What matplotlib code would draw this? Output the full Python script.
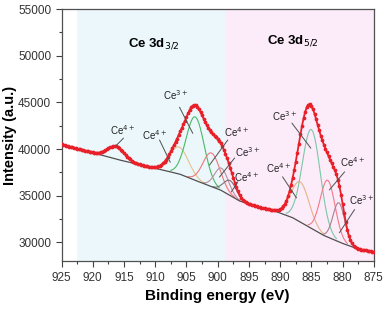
import numpy as np
import matplotlib.pyplot as plt
from matplotlib.ticker import MultipleLocator

plt.rcParams['font.family'] = ['Liberation Sans', 'DejaVu Sans']

# Shirley-type background (eV, counts)
bg_e = [925, 920.5, 915.5, 911, 907.5, 906, 903, 899.5, 896.5, 893.5, 891,
        888, 885.5, 883, 880, 877.5, 875]
bg_i = [40500, 39700, 38800, 38100, 37550, 37300, 36500, 35600, 34450, 33800,
        33400, 32650, 31700, 30750, 29900, 29300, 29000]

# fitted components: centre (eV), height above background, FWHM (eV)
centres = [916.3, 906.2, 903.6, 901.0, 899.4, 898.0, 886.8, 885.0, 882.4, 880.6]
heights = [1350, 2900, 6800, 3600, 2400, 1600, 4300, 10600, 6100, 4200]
fwhms = [3.2, 3.6, 3.4, 3.2, 2.6, 2.4, 3.4, 3.4, 2.8, 2.2]
colors = ['#a8a8a8', '#e6c48a', '#4cb865', '#f07878', '#b8909e', '#747474',
          '#e6b487', '#7cc8a8', '#f27a88', '#a8808f']

# label text position, line start, line end (eV, counts)
labels = ['Ce$^{4+}$', 'Ce$^{4+}$', 'Ce$^{3+}$', 'Ce$^{4+}$', 'Ce$^{3+}$',
          'Ce$^{4+}$', 'Ce$^{4+}$', 'Ce$^{3+}$', 'Ce$^{4+}$', 'Ce$^{3+}$']
lab_xy = [(915.2, 42020), (910.1, 41490), (906.7, 45750), (897.0, 41810),
          (895.2, 39680), (895.4, 37020), (890.3, 37980), (889.3, 43510),
          (878.4, 38620), (877.0, 34580)]
line_from = [(915.1, 41160), (909.3, 40960), (906.1, 44470), (898.4, 40960),
             (897.3, 39040), (896.8, 36490), (889.6, 37020), (888.1, 42770),
             (879.7, 37550), (878.1, 33510)]
line_to = [(916.2, 40420), (907.6, 38600), (904.0, 41700), (901.3, 38300),
           (899.7, 37020), (897.8, 35430), (887.4, 34790), (885.1, 40110),
           (882.1, 35640), (880.5, 31060)]

e = np.arange(925, 874.9, -0.25)
bg = np.interp(e, bg_e[::-1], bg_i[::-1])

def gauss(x, c, h, w):
    s = w / 2.3548
    return h * np.exp(-0.5 * ((x - c) / s) ** 2)

comps = [gauss(e, c, h, w) for c, h, w in zip(centres, heights, fwhms)]
envelope = bg + np.sum(comps, axis=0)

fig = plt.figure(figsize=(3.87, 3.12), dpi=100)
ax = fig.add_axes([0.159, 0.163, 0.807, 0.808])

ax.axvspan(922.5, 898.8, color='#ebf7fb', lw=0, zorder=0)
ax.axvspan(898.8, 875, color='#fcebf8', lw=0, zorder=0)

for g, h, col in zip(comps, heights, colors):
    m = g > 0.02 * h
    ax.plot(e[m], bg[m] + g[m], color=col, lw=0.8, zorder=2)

ax.plot(bg_e, bg_i, color='#505050', lw=0.9, zorder=3)
ax.plot(e, envelope, color='#e8202a', lw=1.3, marker='o', ms=1.7, zorder=4)

for lab, xy, p0, p1 in zip(labels, lab_xy, line_from, line_to):
    ax.text(xy[0], xy[1], lab, fontsize=7, ha='center', va='center', color='#222222')
    ax.plot([p0[0], p1[0]], [p0[1], p1[1]], color='#505050', lw=0.7, zorder=5)

ax.text(910.2, 51300, 'Ce 3d$_{3/2}$', fontsize=9.5, fontweight='bold', ha='center', va='center')
ax.text(888.0, 51600, 'Ce 3d$_{5/2}$', fontsize=9.5, fontweight='bold', ha='center', va='center')

ax.set_xlim(925, 875)
ax.set_ylim(28000, 55000)
ax.xaxis.set_major_locator(MultipleLocator(5))
ax.xaxis.set_minor_locator(MultipleLocator(2.5))
ax.yaxis.set_major_locator(MultipleLocator(5000))
ax.yaxis.set_minor_locator(MultipleLocator(2500))
ax.tick_params(which='both', direction='out', color='#404040', labelsize=8.5, labelcolor='#333333')
ax.tick_params(which='major', length=4, width=0.8)
ax.tick_params(which='minor', length=2.5, width=0.8)
for s in ax.spines.values():
    s.set_color('#505050')
    s.set_linewidth(0.9)

ax.set_xlabel('Binding energy (eV)', fontsize=11, fontweight='bold', labelpad=4)
ax.set_ylabel('Intensity (a.u.)', fontsize=10.5, fontweight='bold')
ax.yaxis.set_label_coords(-0.143, 0.5)

fig.savefig('out.png', dpi=100)
